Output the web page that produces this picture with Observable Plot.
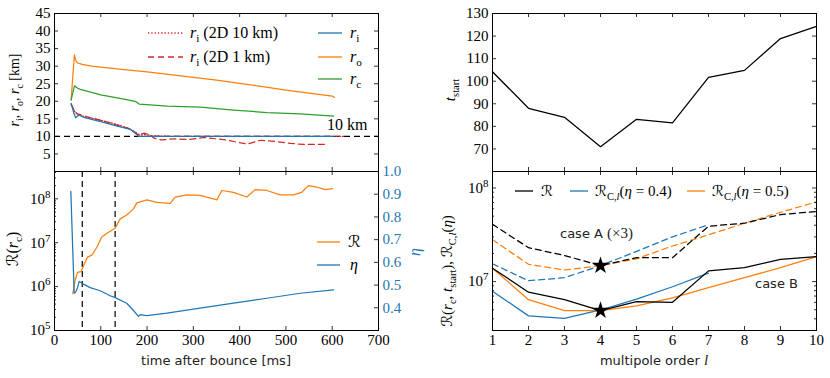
<!DOCTYPE html>
<html><head><meta charset="utf-8">
<script src="https://cdn.jsdelivr.net/npm/d3@7"></script>
<script src="https://cdn.jsdelivr.net/npm/@observablehq/plot@0.6"></script>
<style>
body{margin:0;background:#fff}
#wrap{position:relative;width:830px;height:378px;overflow:hidden;background:#fff}
#wrap svg{position:absolute;overflow:visible}
</style></head><body><div id="wrap"></div>
<script>
// ---------- data ----------
const BLUE = "#1f77b4", ORANGE = "#ff7f0e", GREEN = "#2ca02c", RED = "#d62728";

// top-left: radii [km] vs time after bounce [ms]
const tRo = [36,40,43,46,50,60,80,100,150,200,250,300,350,400,450,500,550,600,605];
const ro  = [20.4,28,33.2,31.6,30.9,30.5,30.0,29.7,29.0,28.4,27.6,26.8,26.0,25.1,24.2,23.2,22.3,21.5,21.1];
const tRc = [36,43,50,56,100,150,176,183,244,315,387,459,531,603];
const rc  = [20.4,24.4,23.7,23.4,21.8,20.6,19.9,19.2,18.6,18.3,17.5,16.8,16.4,15.8];
const tRi = [36,42,45.6,52.8,63.6,99.6,135.6,164,172,182,603];
const ri  = [19.4,16.5,15.3,16.1,15.4,14.2,12.9,12.0,11.2,10.0,10.0];
const tR10 = [36,40,45,50,60,100,130,160,175,185,195,210,250,625];
const r10  = [19.0,18.0,16.8,16.4,15.8,14.6,13.6,12.3,11.2,10.3,10.6,10.2,10.0,10.0];
const tR1 = [36,42,48,55,80,110,140,165,180,195,205,215,230,260,290,323,370,417,445,480,510,540,585];
const r1  = [19.2,17.5,16.5,16.2,15.2,14.2,13.0,12.0,10.5,10.9,10.5,9.5,9.0,9.3,9.1,9.7,9.0,7.8,8.9,8.5,8.0,7.7,7.7];
const rRef = [10];

// bottom-left: R(r_c) and eta
const tR = [39.6,44.6,49.7,57.6,62.7,71.3,80.7,91.5,102,116.7,131,142,156,170.7,177.9,199.5,221,250,260.7,286,314.7,329,351,361.5,386.7,415.5,433.5,458.7,487.5,516,534,548.7,566.8,584.8,600.6];
const Rrc = [6.9e5,1.4e6,2.1e6,2.2e6,3.0e6,4.7e6,5.2e6,7.9e6,1.35e7,1.74e7,2.14e7,3.5e7,4.3e7,5.9e7,8.1e7,9.5e7,8.3e7,7.9e7,1.1e8,1.23e8,1.2e8,1.1e8,9.5e7,1.55e8,1.41e8,1.1e8,1.62e8,1.55e8,1.23e8,1.23e8,1.41e8,2.0e8,1.86e8,1.62e8,1.7e8];
const tEta = [35.3,42.5,46,50,53.3,62.7,77,98.7,120.3,131,156,170.7,181.5,185,199.5,242.7,314.7,386.7,458.7,530.8,602.8];
const eta  = [0.912,0.464,0.47,0.49,0.516,0.504,0.489,0.475,0.453,0.445,0.42,0.388,0.362,0.37,0.366,0.376,0.398,0.42,0.442,0.464,0.479];
const tMarks = [60,131];

// right panels: multipole order l
const L = [1,2,3,4,5,6,7,8,9,10];
const tStart = [104.2,88.0,84.0,71.0,83.1,81.5,101.7,104.8,118.9,124.3];
const RB   = [1.39e7,7.7e6,6.4e6,4.9e6,6.1e6,6.0e6,1.3e7,1.41e7,1.73e7,1.85e7];
const RC4B = [7.9e6,4.3e6,4.05e6,4.97e6,6.5e6,8.8e6,1.23e7];
const RC5B = [1.39e7,6.4e6,4.9e6,4.9e6,5.5e6,6.7e6,8.6e6,1.1e7,1.41e7,1.85e7];
const RA   = [4.1e7,2.3e7,1.9e7,1.48e7,1.8e7,1.8e7,3.9e7,4.2e7,5.2e7,5.6e7];
const RC4A = [1.55e7,1.02e7,1.1e7,1.48e7,2.1e7,3.0e7,4.05e7];
const RC5A = [2.8e7,1.53e7,1.33e7,1.48e7,1.75e7,2.4e7,3.16e7,4.2e7,5.5e7,7.1e7];
const starIdx = 3; // l = 4

// tick values
const xTimeTicks = [0,100,200,300,400,500,600,700];
const rTicks = [0,5,10,15,20,25,30,35,40,45];
const rLabels = [5,10,15,20,25,30,35,40,45];
const etaTicks = [0.4,0.5,0.6,0.7,0.8,0.9,1.0];
const tsTicks = [60,70,80,90,100,110,120,130];
const tsLabels = [70,80,90,100,110,120,130];

// ---------- helpers ----------
const SUP = {"0":"⁰","1":"¹","2":"²","3":"³","4":"⁴","5":"⁵","6":"⁶","7":"⁷","8":"⁸","9":"⁹"};
const UNSUP = Object.fromEntries(Object.entries(SUP).map(([a, b]) => [b, a]));
const pow10 = d => "10" + String(Math.round(Math.log10(d))).split("").map(c => SUP[c]).join("");
function logTicks(lo, hi) {
  const maj = [], min = [];
  for (let e = Math.floor(Math.log10(lo)); e <= Math.ceil(Math.log10(hi)); e++)
    for (let k = 1; k < 10; k++) { const v = k * 10 ** e; if (v >= lo*0.999 && v <= hi*1.001) (k === 1 ? maj : min).push(v); }
  return {maj, min};
}
const TS = {stroke: "black", strokeWidth: 0.8};
function xTicksIn(vals, len, ih, top = true, bottom = true) {
  const m = [];
  if (bottom) m.push(Plot.ruleX(vals, {...TS, insetTop: ih - len}));
  if (top) m.push(Plot.ruleX(vals, {...TS, insetBottom: ih - len}));
  return m;
}
function yTicksIn(vals, len, iw, left = true, right = true, stroke = "black") {
  const m = [];
  if (left) m.push(Plot.ruleY(vals, {...TS, stroke, insetRight: iw - len}));
  if (right) m.push(Plot.ruleY(vals, {...TS, stroke, insetLeft: iw - len}));
  return m;
}
// turn "10⁸" tick labels into "10" + raised tspan
function fixSup(svg) {
  svg.querySelectorAll("text").forEach(t => {
    const m = t.textContent.match(/^10([⁰¹²³⁴⁵⁶⁷⁸⁹]+)$/);
    if (!m) return;
    const e = m[1].split("").map(c => UNSUP[c]).join("");
    t.textContent = "10";
    const ts = document.createElementNS("http://www.w3.org/2000/svg", "tspan");
    ts.setAttribute("font-size", "11");
    ts.setAttribute("dy", "-6");
    ts.textContent = e;
    t.appendChild(ts);
  });
  return svg;
}
const wrap = document.getElementById("wrap");
function place(svg, left, top) { svg.style.left = left + "px"; svg.style.top = top + "px"; wrap.appendChild(svg); }
const baseStyle = {background: "transparent", fontFamily: "'Liberation Serif', serif", fontSize: "15px", color: "black", overflow: "visible"};
const LW = 1.25;

// ---------- top-left ----------
{
  const W = 400, H = 180, ml = 54, mr = 22, mt = 13, mb = 9;
  const iw = W - ml - mr, ih = H - mt - mb;
  place(Plot.plot({
    width: W, height: H, marginLeft: ml, marginRight: mr, marginTop: mt, marginBottom: mb,
    style: baseStyle,
    x: {domain: [0, 700], axis: null}, y: {domain: [0, 45], axis: null},
    marks: [
      Plot.ruleY(rRef, {stroke: "black", strokeWidth: 1.2, strokeDasharray: "6,4"}),
      Plot.line(r1, {x: tR1, y: r1, stroke: RED, strokeWidth: LW, strokeDasharray: "6,4"}),
      Plot.line(r10, {x: tR10, y: r10, stroke: RED, strokeWidth: LW, strokeDasharray: "1.3,2"}),
      Plot.line(ro, {x: tRo, y: ro, stroke: ORANGE, strokeWidth: LW}),
      Plot.line(rc, {x: tRc, y: rc, stroke: GREEN, strokeWidth: LW}),
      Plot.line(ri, {x: tRi, y: ri, stroke: BLUE, strokeWidth: LW}),
      Plot.axisY(rLabels, {anchor: "left", tickSize: 0, tickPadding: 4, label: null, fontSize: 15}),
      ...xTicksIn(xTimeTicks, 4, ih),
      ...yTicksIn(rTicks, 4, iw),
      Plot.frame({stroke: "black"})
    ]
  }), 0, 0);
}

// ---------- bottom-left ----------
{
  const W = 420, H = 218, ml = 54, mr = 42, mt = 11, mb = 48;
  const iw = W - ml - mr, ih = H - mt - mb;
  const dom = [1e5, 4.2e8];
  const lt = logTicks(dom[0], dom[1]);
  place(fixSup(Plot.plot({
    width: W, height: H, marginLeft: ml, marginRight: mr, marginTop: mt, marginBottom: mb,
    style: baseStyle,
    x: {domain: [0, 700], axis: null}, y: {type: "log", domain: dom, axis: null},
    marks: [
      Plot.ruleX(tMarks, {stroke: "black", strokeWidth: 1.2, strokeDasharray: "6,4"}),
      Plot.line(Rrc, {x: tR, y: Rrc, stroke: ORANGE, strokeWidth: LW}),
      Plot.axisX(xTimeTicks, {anchor: "bottom", tickSize: 0, tickPadding: 4, label: null, fontSize: 15}),
      Plot.axisY(lt.maj, {anchor: "left", tickSize: 0, tickPadding: 4, label: null, fontSize: 15, tickFormat: pow10}),
      ...xTicksIn(xTimeTicks, 4, ih),
      ...yTicksIn(lt.maj, 4, iw, true, false),
      ...yTicksIn(lt.min, 2, iw, true, false),
      Plot.frame({stroke: "black"})
    ]
  })), 0, 160);
  // eta overlay, right axis
  place(Plot.plot({
    width: W, height: H, marginLeft: ml, marginRight: mr, marginTop: mt, marginBottom: mb,
    style: {...baseStyle, color: BLUE},
    x: {domain: [0, 700], axis: null}, y: {domain: [0.3, 1.0], axis: null},
    marks: [
      Plot.line(eta, {x: tEta, y: eta, stroke: BLUE, strokeWidth: LW}),
      Plot.axisY(etaTicks, {anchor: "right", tickSize: 0, tickPadding: 4, label: null, fontSize: 15, tickFormat: d3.format(".1f")}),
      ...yTicksIn(etaTicks, 4, iw, false, true, "black")
    ]
  }), 0, 160);
}

// ---------- top-right ----------
{
  const W = 420, H = 180, ml = 82, mr = 14, mt = 13, mb = 9;
  const iw = W - ml - mr, ih = H - mt - mb;
  place(Plot.plot({
    width: W, height: H, marginLeft: ml, marginRight: mr, marginTop: mt, marginBottom: mb,
    style: baseStyle,
    x: {domain: [1, 10], axis: null}, y: {domain: [60, 130], axis: null},
    marks: [
      Plot.line(tStart, {x: L, y: tStart, stroke: "black", strokeWidth: LW}),
      Plot.axisY(tsLabels, {anchor: "left", tickSize: 0, tickPadding: 4, label: null, fontSize: 15}),
      ...xTicksIn(L, 4, ih),
      ...yTicksIn(tsTicks, 4, iw),
      Plot.frame({stroke: "black"})
    ]
  }), 410, 0);
}

// ---------- bottom-right ----------
{
  const W = 420, H = 218, ml = 82, mr = 14, mt = 11, mb = 48;
  const iw = W - ml - mr, ih = H - mt - mb;
  const dom = [3e6, 1.5e8];
  const lt = logTicks(dom[0], dom[1]);
  const L7 = L.slice(0, 7);
  place(fixSup(Plot.plot({
    width: W, height: H, marginLeft: ml, marginRight: mr, marginTop: mt, marginBottom: mb,
    style: baseStyle,
    x: {domain: [1, 10], axis: null}, y: {type: "log", domain: dom, axis: null},
    marks: [
      Plot.line(RC4A, {x: L7, y: RC4A, stroke: BLUE, strokeWidth: LW, strokeDasharray: "6,4"}),
      Plot.line(RC5A, {x: L, y: RC5A, stroke: ORANGE, strokeWidth: LW, strokeDasharray: "6,4"}),
      Plot.line(RA, {x: L, y: RA, stroke: "black", strokeWidth: LW, strokeDasharray: "6,4"}),
      Plot.line(RC4B, {x: L7, y: RC4B, stroke: BLUE, strokeWidth: LW}),
      Plot.line(RC5B, {x: L, y: RC5B, stroke: ORANGE, strokeWidth: LW}),
      Plot.line(RB, {x: L, y: RB, stroke: "black", strokeWidth: LW}),
      Plot.dot([RA[starIdx], RB[starIdx]], {x: [L[starIdx], L[starIdx]], y: [RA[starIdx], RB[starIdx]], symbol: "star", fill: "black", r: 5.5}),
      Plot.axisX(L, {anchor: "bottom", tickSize: 0, tickPadding: 4, label: null, fontSize: 15}),
      Plot.axisY(lt.maj, {anchor: "left", tickSize: 0, tickPadding: 4, label: null, fontSize: 15, tickFormat: pow10}),
      ...xTicksIn(L, 4, ih),
      ...yTicksIn(lt.maj, 4, iw),
      ...yTicksIn(lt.min, 2, iw),
      Plot.frame({stroke: "black"})
    ]
  })), 410, 160);
}

// ---------- text overlay ----------
const ov = d3.select(wrap).append("svg").attr("width", 830).attr("height", 378)
  .style("left", "0px").style("top", "0px").style("pointer-events", "none");
const SERIF = "'Liberation Serif', serif", SANS = "'DejaVu Sans', sans-serif", SCR = "'DejaVu Sans', 'DejaVu Serif', sans-serif";
function rtext(x, y, parts, {size = 15, anchor = "start", rotate = 0, fill = "black", family = SERIF} = {}) {
  const t = ov.append("text").attr("x", x).attr("y", y).attr("font-size", size)
    .attr("font-family", family).attr("fill", fill).attr("text-anchor", anchor);
  if (rotate) t.attr("transform", `rotate(${rotate},${x},${y})`);
  let cur = 0;
  for (const p of parts) {
    const s = typeof p === "string" ? {t: p} : p;
    const ts = t.append("tspan").text(s.t);
    if (s.i) ts.attr("font-style", "italic");
    if (s.f) ts.attr("font-family", s.f);
    if (s.size) ts.attr("font-size", s.size);
    let target = 0;
    if (s.sub) { ts.attr("font-size", size * 0.7); target = size * 0.25; }
    if (target !== cur) { ts.attr("dy", target - cur); cur = target; }
  }
  return t;
}
const rSub = s => [{t: "r", i: true}, {t: s, sub: true}];
// legend lines
function lline(x1, x2, y, stroke, dash) {
  ov.append("line").attr("x1", x1).attr("x2", x2).attr("y1", y).attr("y2", y)
    .attr("stroke", stroke).attr("stroke-width", 1.3).attr("stroke-dasharray", dash || null);
}
// top-left legend
lline(148, 183, 33, RED, "1.3,2");
rtext(190, 38, [...rSub("i"), " (2D 10 km)"], {size: 16});
lline(148, 183, 57, RED, "6,4");
rtext(190, 62, [...rSub("i"), " (2D 1 km)"], {size: 16});
lline(318, 342, 33, BLUE); rtext(350, 38, rSub("i"), {size: 16});
lline(318, 342, 57, ORANGE); rtext(350, 62, rSub("o"), {size: 16});
lline(318, 342, 79, GREEN); rtext(350, 84, rSub("c"), {size: 16});
rtext(327, 130, ["10 km"], {size: 16});
// y labels left
rtext(19, 90, [...rSub("i"), ", ", ...rSub("o"), ", ", ...rSub("c"), " [km]"], {size: 14, anchor: "middle", rotate: -90});
rtext(18, 249, [{t: "ℛ", f: SCR}, "(", ...rSub("c"), ")"], {size: 16, anchor: "middle", rotate: -90});
rtext(420, 252, [{t: "η", i: true}], {size: 16, anchor: "middle", rotate: -90, fill: BLUE});
// bottom-left legend
lline(317, 340, 242, ORANGE); rtext(348, 247, [{t: "ℛ", f: SCR}], {size: 16});
lline(317, 340, 265, BLUE); rtext(350, 270, [{t: "η", i: true}], {size: 16});
rtext(216, 365, ["time after bounce [ms]"], {size: 13, anchor: "middle", family: SANS, fill: "#222"});
// right labels
rtext(455, 90, [{t: "t", i: true}, {t: "start", sub: true}], {size: 15, anchor: "middle", rotate: -90});
rtext(452, 271, [{t: "ℛ", f: SCR}, "(", ...rSub("c"), ", ", {t: "t", i: true}, {t: "start", sub: true}, "), ",
  {t: "ℛ", f: SCR}, {t: "C,", sub: true}, {t: "l", sub: true, i: true}, "(", {t: "η", i: true}, ")"],
  {size: 15, anchor: "middle", rotate: -90});
rtext(654, 365, ["multipole order ", {t: "l", i: true, f: SERIF, size: 15}], {size: 13, anchor: "middle", family: SANS, fill: "#222"});
// bottom-right legend
lline(515, 533, 191, "black"); rtext(541, 196, [{t: "ℛ", f: SCR}], {size: 15});
lline(570, 588, 191, BLUE); rtext(595, 196, [{t: "ℛ", f: SCR}, {t: "C,", sub: true}, {t: "l", sub: true, i: true}, "(", {t: "η", i: true}, " = 0.4)"]);
lline(687, 705, 191, ORANGE); rtext(712, 196, [{t: "ℛ", f: SCR}, {t: "C,", sub: true}, {t: "l", sub: true, i: true}, "(", {t: "η", i: true}, " = 0.5)"]);
rtext(560, 238, ["case A ", {t: "(×3)", f: SERIF, size: 15}], {size: 13, family: SANS, fill: "#222"});
rtext(755, 288, ["case B"], {size: 13, family: SANS, fill: "#222"});
</script></body></html>
